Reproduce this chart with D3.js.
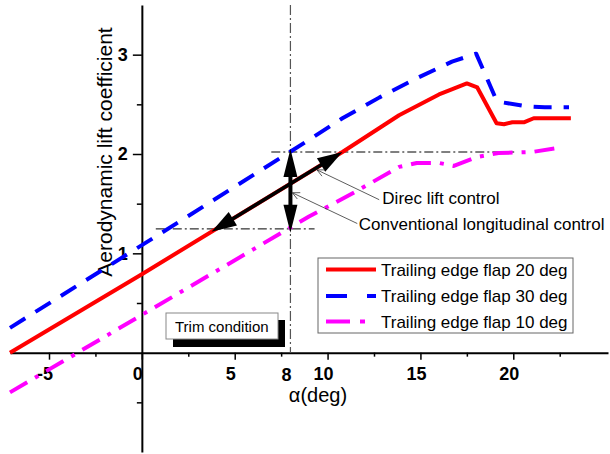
<!DOCTYPE html>
<html>
<head>
<meta charset="utf-8">
<script src="https://cdn.jsdelivr.net/npm/d3@7"></script>
<style>
  body { margin: 0; background: #fff; }
  svg { display: block; }
  text { font-family: Arial, "Liberation Sans", sans-serif; }
</style>
</head>
<body>
<svg id="chart" width="610" height="454"></svg>
<script>
// Lift coefficient vs angle of attack for three trailing-edge flap settings
const alphaFlap20 = [-7.1, 0, 10.8, 13.85, 16.0, 16.55, 17.5, 18.06, 19.1, 19.5, 19.95, 20.6, 21.1, 23.1];
const clFlap20    = [0, 0.79, 2.02, 2.39, 2.60, 2.64, 2.71, 2.67, 2.31, 2.30, 2.32, 2.32, 2.36, 2.36];

const alphaFlap30 = [-7.1, 2.37, 8.9, 10.8, 12.8, 14.77, 16.7, 18.0, 18.4, 19.05, 19.4, 20.7, 21.7, 23.0];
const clFlap30    = [0.25, 1.36, 2.13, 2.36, 2.57, 2.76, 2.93, 3.01, 2.84, 2.56, 2.52, 2.48, 2.47, 2.47];

const alphaFlap10 = [-7.1, 0, 9.0, 11.5, 13.85, 14.8, 16.0, 16.8, 18.06, 19.2, 21.0, 22.4];
const clFlap10    = [-0.40, 0.38, 1.37, 1.62, 1.87, 1.91, 1.91, 1.88, 1.97, 2.01, 2.02, 2.06];

const seriesNames = ["Trailing edge flap 20 deg", "Trailing edge flap 30 deg", "Trailing edge flap 10 deg"];

const xMajorTicks = [-5, 0, 5, 10, 15, 20];
const xMinorTicks = [-2.5, 2.5, 7.5, 12.5, 17.5, 22.5];
const yMajorTicks = [1, 2, 3];
const yMinorTicks = [-0.5, 0.5, 1.5, 2.5];

// Trim point and control increments
const trimAlpha = 8;
const clTrimLow = 1.246;   // flap 10 at trim
const clTrimHigh = 2.02;   // flap 30 at trim
const dlcAlpha = [3.75, 10.8]; // direct-lift-control travel along the flap 20 curve

const svg = d3.select("#chart");
const x = d3.scaleLinear().domain([-7.1, 25.1]).range([10, 608]);
const y = d3.scaleLinear().domain([-1, 3.5]).range([452, 5]);

function interp(xs, ys, a) {
  for (let i = 0; i < xs.length - 1; i++) {
    if (a >= xs[i] && a <= xs[i + 1]) {
      const t = (a - xs[i]) / (xs[i + 1] - xs[i]);
      return ys[i] + t * (ys[i + 1] - ys[i]);
    }
  }
  return ys[ys.length - 1];
}

// ---- axes crossing at the origin ----
const xAxis = svg.append("g")
  .attr("transform", `translate(0,${y(0)})`)
  .call(d3.axisBottom(x).tickValues(xMajorTicks).tickSize(7).tickSizeOuter(0).tickPadding(8)
    .tickFormat(d => String(d)));
xAxis.select(".domain").attr("stroke-width", 2);
xAxis.selectAll(".tick line").attr("stroke-width", 1.5);
xAxis.selectAll(".tick text").attr("font-size", 18).attr("font-weight", "bold")
  .attr("fill", "#000").attr("dx", -4.5)
  .style("font-family", "Arial, 'Liberation Sans', sans-serif");
svg.append("g")
  .attr("transform", `translate(0,${y(0)})`)
  .call(d3.axisBottom(x).tickValues(xMinorTicks).tickSize(4).tickSizeOuter(0).tickFormat(""))
  .call(g => g.select(".domain").remove())
  .selectAll(".tick line").attr("stroke-width", 1.5);
// extra label marking the trim angle
svg.append("text").attr("x", x(trimAlpha) - 4).attr("y", y(0) + 28)
  .attr("text-anchor", "middle").attr("font-size", 18).attr("font-weight", "bold")
  .text(String(trimAlpha));

const yAxis = svg.append("g")
  .attr("transform", `translate(${x(0)},0)`)
  .call(d3.axisLeft(y).tickValues(yMajorTicks).tickSize(9).tickSizeOuter(0).tickPadding(5)
    .tickFormat(d => String(d)));
yAxis.select(".domain").attr("stroke-width", 2);
yAxis.selectAll(".tick line").attr("stroke-width", 1.5);
yAxis.selectAll(".tick text").attr("font-size", 18).attr("font-weight", "bold").attr("fill", "#000")
  .style("font-family", "Arial, 'Liberation Sans', sans-serif");
svg.append("g")
  .attr("transform", `translate(${x(0)},0)`)
  .call(d3.axisLeft(y).tickValues(yMinorTicks).tickSize(5).tickSizeOuter(0).tickFormat(""))
  .call(g => g.select(".domain").remove())
  .selectAll(".tick line").attr("stroke-width", 1.5);

// axis titles
svg.append("text").attr("x", 318).attr("y", 402).attr("text-anchor", "middle")
  .attr("font-size", 20).text("α(deg)");
svg.append("text").attr("transform", "translate(112,152) rotate(-90)").attr("text-anchor", "middle")
  .attr("font-size", 21).text("Aerodynamic lift coefficient");

// ---- guide lines at trim ----
svg.append("line")
  .attr("x1", x(trimAlpha)).attr("x2", x(trimAlpha)).attr("y1", y(3.5)).attr("y2", y(0))
  .attr("stroke", "#555").attr("stroke-width", 1.2).attr("stroke-dasharray", "10,3,2,3");
svg.append("line")
  .attr("x1", x(6.97)).attr("x2", x(20.05)).attr("y1", y(clTrimHigh)).attr("y2", y(clTrimHigh))
  .attr("stroke", "#000").attr("stroke-width", 1).attr("stroke-dasharray", "9,3,2,3");
svg.append("line")
  .attr("x1", x(0.75)).attr("x2", x(9.3)).attr("y1", y(clTrimLow)).attr("y2", y(clTrimLow))
  .attr("stroke", "#000").attr("stroke-width", 1).attr("stroke-dasharray", "9,3,2,3");

// ---- "Trim condition" box with drop shadow ----
const trimBox = svg.append("g");
trimBox.append("rect").attr("x", 173).attr("y", 320).attr("width", 112).attr("height", 27).attr("fill", "#000");
trimBox.append("rect").attr("x", 166).attr("y", 313).attr("width", 112).attr("height", 26)
  .attr("fill", "#fff").attr("stroke", "#888").attr("stroke-width", 1);
trimBox.append("text").attr("x", 175).attr("y", 332).attr("font-size", 15).text("Trim condition");

// ---- curves ----
const line = d3.line().x(d => x(d[0])).y(d => y(d[1]));
const seriesData = [
  { a: alphaFlap20, c: clFlap20, color: "#ff0000", dash: null },
  { a: alphaFlap30, c: clFlap30, color: "#0000ff", dash: "18,12" },
  { a: alphaFlap10, c: clFlap10, color: "#ff00ff", dash: "20,9,4,9" }
];
// draw order: flap 10, flap 30, flap 20
[2, 1, 0].forEach(i => {
  const s = seriesData[i];
  svg.append("path")
    .datum(s.a.map((v, j) => [v, s.c[j]]))
    .attr("d", line)
    .attr("fill", "none")
    .attr("stroke", s.color)
    .attr("stroke-width", 4)
    .attr("stroke-linejoin", "round")
    .attr("stroke-dasharray", s.dash);
});

// ---- control arrows ----
function head(tip, from, len, hw) {
  const dx = tip[0] - from[0], dy = tip[1] - from[1];
  const L = Math.hypot(dx, dy), ux = dx / L, uy = dy / L;
  const bx = tip[0] - ux * len, by = tip[1] - uy * len;
  return `M${tip[0]},${tip[1]}L${bx - uy * hw},${by + ux * hw}L${bx + uy * hw},${by - ux * hw}Z`;
}
function doubleArrow(p1, p2, len, hw, w) {
  const g = svg.append("g");
  const dx = p2[0] - p1[0], dy = p2[1] - p1[1];
  const L = Math.hypot(dx, dy), ux = dx / L, uy = dy / L;
  g.append("line")
    .attr("x1", p1[0] + ux * (len - 2)).attr("y1", p1[1] + uy * (len - 2))
    .attr("x2", p2[0] - ux * (len - 2)).attr("y2", p2[1] - uy * (len - 2))
    .attr("stroke", "#000").attr("stroke-width", w);
  g.append("path").attr("d", head(p1, p2, len, hw)).attr("fill", "#000");
  g.append("path").attr("d", head(p2, p1, len, hw)).attr("fill", "#000");
}
const dlcStart = [x(dlcAlpha[0]), y(interp(alphaFlap20, clFlap20, dlcAlpha[0]))];
const dlcEnd = [x(dlcAlpha[1]), y(interp(alphaFlap20, clFlap20, dlcAlpha[1]))];
doubleArrow(dlcStart, dlcEnd, 25, 8, 3.5);
doubleArrow([x(trimAlpha), y(clTrimHigh + 0.03)], [x(trimAlpha), y(clTrimLow - 0.04)], 28, 7, 4);

// ---- leader lines and labels ----
function leader(tip, end) {
  const g = svg.append("g").attr("stroke", "#333").attr("stroke-width", 0.8).attr("fill", "none");
  g.append("line").attr("x1", tip[0]).attr("y1", tip[1]).attr("x2", end[0]).attr("y2", end[1]);
  const ang = Math.atan2(end[1] - tip[1], end[0] - tip[0]);
  [0.45, -0.45].forEach(da => {
    g.append("line").attr("x1", tip[0]).attr("y1", tip[1])
      .attr("x2", tip[0] + 8 * Math.cos(ang + da)).attr("y2", tip[1] + 8 * Math.sin(ang + da));
  });
}
leader([x(9.43), y(1.84)], [x(12.78), y(1.54)]);
leader([x(8.1), y(1.61)], [x(11.6), y(1.30)]);
svg.append("text").attr("x", x(12.95)).attr("y", y(1.50)).attr("font-size", 17).text("Direc lift control");
svg.append("text").attr("x", x(11.68)).attr("y", y(1.23)).attr("font-size", 17).text("Conventional longitudinal control");

// ---- legend ----
const legend = svg.append("g");
legend.append("rect").attr("x", 318).attr("y", 258).attr("width", 255).attr("height", 75)
  .attr("fill", "#fff").attr("stroke", "#666").attr("stroke-width", 1);
const legendDash = [null, "21,20,10", "24,10,5,20"];
const legendRows = [269.5, 296, 321.5];
seriesData.forEach((s, i) => {
  legend.append("line").attr("x1", 326).attr("x2", 376)
    .attr("y1", legendRows[i]).attr("y2", legendRows[i])
    .attr("stroke", s.color).attr("stroke-width", 4).attr("stroke-dasharray", legendDash[i]);
  legend.append("text").attr("x", 381).attr("y", legendRows[i]).attr("dy", "0.36em")
    .attr("font-size", 17).text(seriesNames[i]);
});
</script>
</body>
</html>
